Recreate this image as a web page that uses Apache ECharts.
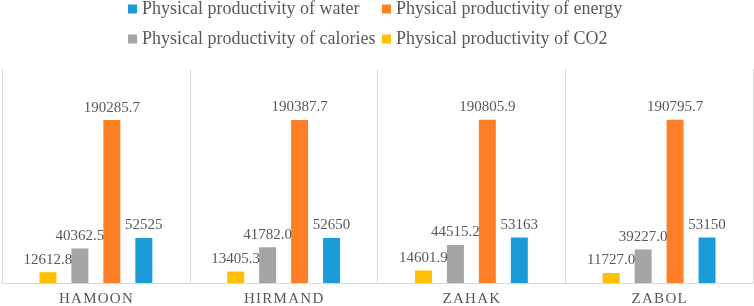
<!DOCTYPE html>
<html>
<head>
<meta charset="utf-8">
<script src="https://cdn.jsdelivr.net/npm/echarts@6/dist/echarts.min.js"></script>
<style>
  html, body { margin: 0; padding: 0; background: #fff; }
  #chart { width: 754px; height: 306px; }
</style>
</head>
<body>
<div id="chart"></div>
<script>
const categories = ['HAMOON', 'HIRMAND', 'ZAHAK', 'ZABOL']
const co2 = [12612.8, 13405.3, 14601.9, 11727.0]
const calories = [40362.5, 41782.0, 44515.2, 39227.0]
const energy = [190285.7, 190387.7, 190805.9, 190795.7]
const water = [52525, 52650, 53163, 53150]

const textColor = '#595959'
const font = '"Liberation Serif", "Times New Roman", serif'

function makeSeries(name, data, color, decimals) {
  return {
    name: name,
    type: 'bar',
    data: data,
    barWidth: 17,
    barGap: '88%',
    itemStyle: { color: color },
    label: {
      show: true,
      position: 'top',
      distance: 5,
      color: textColor,
      fontFamily: font,
      fontSize: 15,
      formatter: p => p.value.toFixed(decimals)
    }
  }
}

const legendText = { color: textColor, fontFamily: font, fontSize: 18 }

const chart = echarts.init(document.getElementById('chart'))
chart.setOption({
  animation: false,
  grid: { left: 2, right: 1, top: 69, bottom: 23, containLabel: false, outerBoundsMode: 'none' },
  legend: [
    {
      orient: 'vertical', left: 128, top: 0, padding: 0, itemGap: 12,
      itemWidth: 9, itemHeight: 9, icon: 'rect', itemTextGap: 5,
      textStyle: legendText,
      data: ['Physical productivity of water', 'Physical productivity of calories']
    },
    {
      orient: 'vertical', left: 382, top: 0, padding: 0, itemGap: 12,
      itemWidth: 9, itemHeight: 9, icon: 'rect', itemTextGap: 5,
      textStyle: legendText,
      data: ['Physical productivity of energy', 'Physical productivity of CO2']
    }
  ],
  xAxis: {
    type: 'category',
    data: categories,
    axisTick: { show: false },
    axisLine: { lineStyle: { color: '#d9d9d9', width: 1 } },
    splitLine: { show: true, lineStyle: { color: '#d9d9d9', width: 1 } },
    axisLabel: {
      color: textColor,
      fontFamily: font,
      fontSize: 15,
      margin: 9,
      formatter: v => v.split('').join('\u200a')
    }
  },
  yAxis: {
    type: 'value',
    min: 0,
    max: 250000,
    show: false,
    splitLine: { show: false }
  },
  series: [
    makeSeries('Physical productivity of CO2', co2, '#ffc000', 1),
    makeSeries('Physical productivity of calories', calories, '#a5a5a5', 1),
    makeSeries('Physical productivity of energy', energy, '#fd7f26', 1),
    makeSeries('Physical productivity of water', water, '#1b9bd7', 0)
  ]
})
</script>
</body>
</html>
